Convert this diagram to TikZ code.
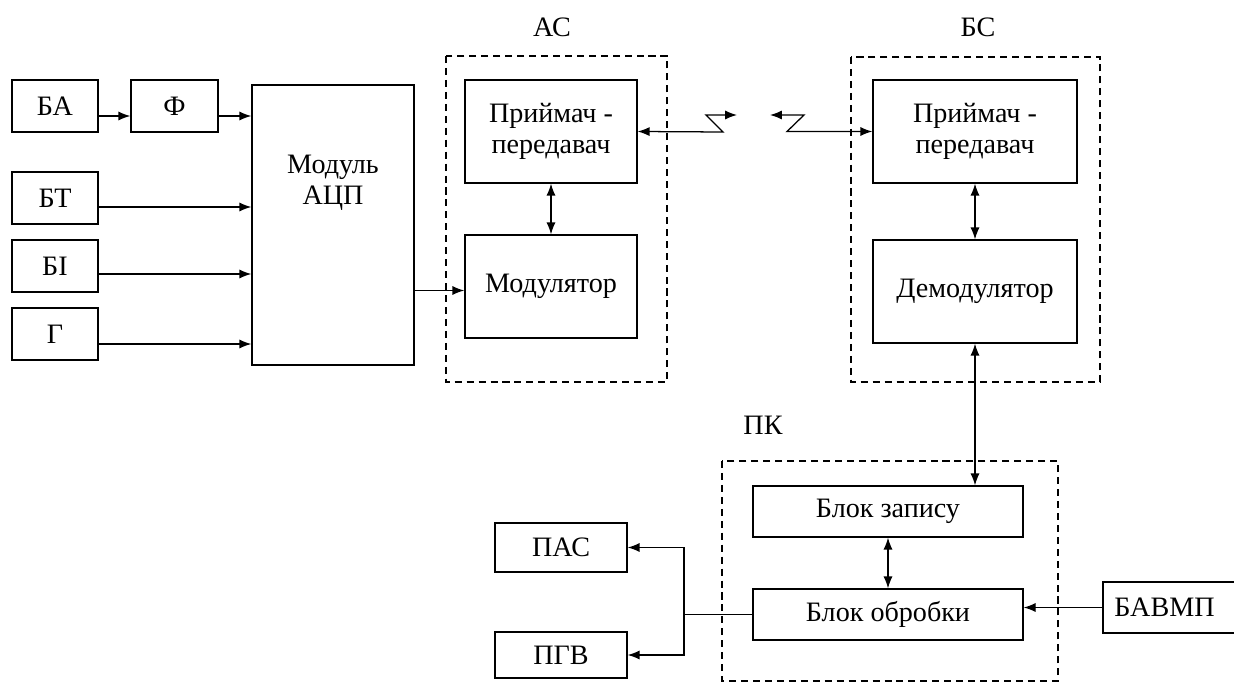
\documentclass[tikz,border=0pt]{standalone}
\usepackage{fontspec}
\setmainfont{Liberation Serif}
\usetikzlibrary{arrows.meta,positioning}

\begin{document}
\begin{tikzpicture}[x=0.025cm,y=-0.025cm,>={Latex[length=8.5pt,width=6.5pt]},line width=0.9pt,
    every node/.append style={align=center,font=\fontsize{20}{22}\selectfont},
    int/.style={draw, inner sep=2pt, minimum width=2.15cm, minimum height=1.3cm},
    grp/.style={draw, line width=0.9pt, dash pattern=on 5pt off 3.5pt}]
  \useasboundingbox (0,0) rectangle (1234,682);
  \clip (0,0) rectangle (1234,682);
  % sensors
  \node [int] (BA) at (55,106)  {БА};
  \node [int, minimum width=2.175cm] (F) at (174.5,106) {Ф};
  \node [int] (BT) at (55,198)  {БТ};
  \node [int] (BI) at (55,266)  {БІ};
  \node [int] (G)  at (55,334)  {Г};
  \node [int, minimum width=4.05cm, minimum height=7cm] (ADC) at (333,225) {};
  \node (ADCt) at (333,183) {Модуль\\АЦП};
  % AC
  \draw [grp] (446,56) rectangle (667,382);
  \node (AC) at (552,27) {АС};
  \node [int, minimum width=4.3cm, minimum height=2.575cm] (TRa) at (551,131.5) {Приймач -\\передавач};
  \node [int, minimum width=4.3cm, minimum height=2.575cm] (MOD) at (551,286.5) {Модулятор};
  % BC
  \draw [grp] (851,57) rectangle (1100,382);
  \node (BC) at (978,27) {БС};
  \node [int, minimum width=5.1cm, minimum height=2.575cm] (TRb) at (975,131.5) {Приймач -\\передавач};
  \node [int, minimum width=5.1cm, minimum height=2.575cm] (DEM) at (975,291.5) {Демодулятор};
  % PK
  \draw [grp] (722,461) rectangle (1058,681);
  \node (PK) at (763,425) {ПК};
  \node [int, minimum width=6.75cm, minimum height=1.275cm] (ZAP) at (888,511.5) {Блок запису};
  \node [int, minimum width=6.75cm, minimum height=1.275cm] (OBR) at (888,614.5) {Блок обробки};
  \node [int, minimum width=3.45cm, minimum height=1.275cm, text width=3.3cm, align=left] (BAV) at (1172,607.5) {\hspace{0.3em}БАВМП};
  \node [int, minimum width=3.3cm, minimum height=1.225cm] (PAS) at (561,547.5) {ПАС};
  \node [int, minimum width=3.3cm, minimum height=1.15cm] (PGV) at (561,655) {ПГВ};
  % radio link
  \coordinate (za) at (723,132);
  \coordinate (zb) at (706,115);
  \coordinate (zc) at (737,115);
  \coordinate (zd) at (770,115);
  \coordinate (ze) at (804,115);
  \coordinate (zf) at (787,131.5);
  \coordinate (jn) at (684,614.5);
  % connections
  \draw [->] ([yshift=-0.25cm]BA.east) -- ([yshift=-0.25cm]F.west);
  \draw [->] ([yshift=-0.25cm]F.east) -- ([yshift=-0.25cm]F.east -| ADC.west);
  \draw [->] ([yshift=-0.225cm]BT.east) -- ([yshift=-0.225cm]BT.east -| ADC.west);
  \draw [->] ([yshift=-0.2cm]BI.east) -- ([yshift=-0.2cm]BI.east -| ADC.west);
  \draw [->] ([yshift=-0.25cm]G.east) -- ([yshift=-0.25cm]G.east -| ADC.west);
  \draw [->] ([yshift=-0.1cm]MOD.west -| ADC.east) -- ([yshift=-0.1cm]MOD.west);
  \draw [<->] (TRa.east) -- (za) -- (zb) -- (zc);
  \draw [<->] (zd) -- (ze) -- (zf) -- (TRb.west);
  \path [<->] (TRa) edge (MOD)
              (TRb) edge (DEM)
              (DEM.south) edge (DEM.south |- ZAP.north)
              (ZAP) edge (OBR);
  \draw [->] (BAV.west) -- (BAV.west -| OBR.east);
  \draw (OBR.west) -- (jn);
  \draw [->] (jn) |- (PAS.east);
  \draw [->] (jn) |- (PGV.east);
\end{tikzpicture}
\end{document}
